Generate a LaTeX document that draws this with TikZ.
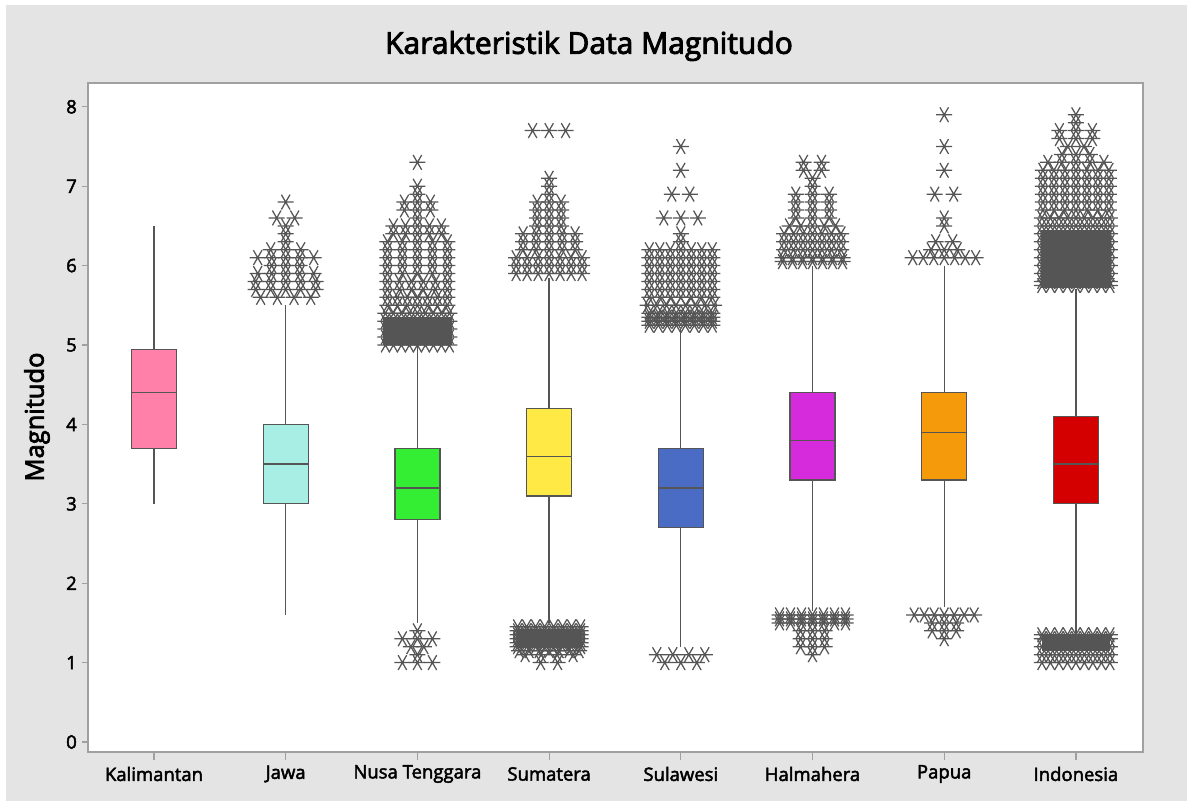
\documentclass[tikz,border=0pt]{standalone}
\usepackage{fontspec}
\setmainfont{Open Sans}
\newfontfamily\sbf{Open Sans}[FakeBold=3]
\newfontfamily\lbf{Open Sans}[FakeBold=2.5]
\definecolor{bg}{HTML}{E4E4E4}
\definecolor{frm}{HTML}{A0A0A0}
\definecolor{sg}{HTML}{555555}
\definecolor{cKal}{HTML}{FF80A8}
\definecolor{cJaw}{HTML}{A8EEE4}
\definecolor{cNus}{HTML}{33EE33}
\definecolor{cSum}{HTML}{FFEA45}
\definecolor{cSul}{HTML}{4A6CC4}
\definecolor{cHal}{HTML}{D62BDC}
\definecolor{cPap}{HTML}{F59A0A}
\definecolor{cInd}{HTML}{D40000}
\tikzset{
  astl/.style={line width=1.25pt, draw=sg},
  ast/.pic={\draw[astl] (-8,0)--(8,0) (-4.3,-7.4)--(4.3,7.4) (-4.3,7.4)--(4.3,-7.4);},
  boxl/.style={line width=1.3pt, draw=sg},
  whl/.style={line width=1.3pt, draw=sg},
  tickl/.style={line width=1.2pt, draw=frm},
  lab/.style={font=\lbf\fontsize{18.5}{21}\selectfont, text=black, inner sep=0pt},
}
\newcommand{\starrows}[2]{%
  \foreach \v/\n/\s in {#2}{%
    \foreach \i in {1,...,\n}{%
      \pic at ({#1+(\i-(\n+1)/2)*\s},{59+79.4*\v}) {ast};
    }%
  }%
}
\newcommand{\boxplt}[7]{% cx, color, wlo, q1, med, q3, whi
  \draw[whl] (#1,{59+79.4*#3}) -- (#1,{59+79.4*#4});
  \draw[whl] (#1,{59+79.4*#6}) -- (#1,{59+79.4*#7});
  \filldraw[fill=#2, boxl] ({#1-22.5},{59+79.4*#4}) rectangle ({#1+22.5},{59+79.4*#6});
  \draw[boxl] ({#1-22.5},{59+79.4*#5}) -- ({#1+22.5},{59+79.4*#5});
}
\newcommand{\solid}[4]{\fill[sg] (#1,{59+79.4*#3}) rectangle (#2,{59+79.4*#4});}
\begin{document}
\begin{tikzpicture}[x=1pt,y=1pt]
\useasboundingbox (0,0) rectangle (1187,801);
\fill[white] (0,0) rectangle (1187,801);
\fill[bg] (6,0) rectangle (1187,796);
\fill[white] (88,49) rectangle (1143,718);
\draw[frm, line width=1.5pt] (88,49) rectangle (1143,718);
% title
\node[font=\sbf\fontsize{30}{34}\selectfont, inner sep=0pt] (title) at (589,755) {Karakteristik Data Magnitudo};
% y axis label
\node[font=\sbf\fontsize{25.5}{29}\selectfont, rotate=90, inner sep=0pt] (ylab) at (37,384) {Magnitudo};
% y ticks
\foreach \t in {0,...,8}{
  \draw[tickl] (82,{59+79.4*\t}) -- (88,{59+79.4*\t});
  \node[lab, anchor=east] (yt\t) at (77,{59+79.4*\t}) {\t};
}
% x ticks and labels
\foreach \k/\name in {0/Kalimantan,1/Jawa,2/Nusa Tenggara,3/Sumatera,4/Sulawesi,5/Halmahera,6/Papua,7/Indonesia}{
  \draw[tickl] ({154+131.7*\k},49) -- ({154+131.7*\k},41);
  \node[lab] (xt\k) at ({154+131.7*\k},27) {\name};
}
% boxes
\boxplt{154}{cKal}{3.0}{3.7}{4.4}{4.94}{6.5}
\boxplt{285.7}{cJaw}{1.6}{3.0}{3.5}{4.0}{5.5}
\boxplt{417.4}{cNus}{1.5}{2.8}{3.2}{3.7}{5.0}
\boxplt{549.1}{cSum}{1.5}{3.1}{3.6}{4.2}{5.85}
\boxplt{680.8}{cSul}{1.2}{2.7}{3.2}{3.7}{5.2}
\boxplt{812.5}{cHal}{1.65}{3.3}{3.8}{4.4}{6.0}
\boxplt{944.2}{cPap}{1.7}{3.3}{3.9}{4.4}{6.0}
\boxplt{1075.9}{cInd}{1.35}{3.0}{3.5}{4.1}{5.7}
% outliers: Jawa
\starrows{285.7}{6.8/1/0,6.6/2/18,6.5/1/0,6.4/1/0,6.3/1/0,6.2/3/15,6.1/5/14,6.0/3/14,5.9/5/14,5.8/5/15,5.7/5/15,5.6/4/16.7}
% Nusa Tenggara
\solid{383}{452}{5.0}{5.35}
\starrows{417.4}{7.3/1/0,7.0/1/0,6.9/1/0,6.8/3/13,6.7/3/13,6.6/1/0,6.5/5/12,6.4/5/12,6.3/5/15,6.2/5/15,6.1/5/15,6.0/5/15,5.9/5/15,5.8/6/12,5.7/6/12,5.6/7/10,5.5/7/10,5.4/9/8,5.3/9/8,5.2/9/8,5.1/9/8,5.0/9/8}
\starrows{417.4}{1.4/1/0,1.3/3/15,1.2/2/13,1.1/1/0,1.0/3/15}
% Sumatera
\starrows{549.1}{7.7/3/16.5,7.1/1/0,7.0/1/0,6.9/1/0,6.8/3/12,6.7/3/12,6.6/3/12,6.5/3/12,6.4/5/13,6.3/5/13,6.2/5/13,6.1/7/11,6.0/7/11,5.9/7/11}
\solid{517}{581}{1.18}{1.42}
\starrows{549.1}{1.45/8/9,1.4/8/9,1.35/8/9,1.3/8/9,1.25/8/9,1.2/8/9,1.15/7/10,1.1/4/16,1.0/2/17}
% Sulawesi
\starrows{680.8}{7.5/1/0,7.2/1/0,6.9/2/18,6.6/3/17,6.4/1/0,6.3/1/0,6.2/7/10.5,6.1/7/10.5,6.0/7/10.5,5.9/7/10.5,5.8/7/10.5,5.7/7/10.5,5.6/7/10.5,5.5/8/9.5,5.4/8/9,5.35/8/9,5.3/8/9,5.25/8/9}
\starrows{680.8}{1.1/4/16,1.0/3/16}
% Halmahera
\starrows{812.5}{7.3/2/18,7.2/2/18,7.1/1/0,7.0/1/0,6.9/3/16.7,6.8/3/16.7,6.7/3/16.7,6.6/3/16.7,6.5/5/11.5,6.4/7/9.5,6.3/7/9.5,6.2/7/9.5,6.1/7/10,6.05/7/10}
\starrows{812.5}{1.6/7/11,1.55/7/11,1.5/7/11,1.4/3/12,1.3/3/12,1.2/3/12,1.1/1/0}
% Papua
\starrows{944.2}{7.9/1/0,7.5/1/0,7.2/1/0,6.9/2/19,6.6/1/0,6.5/1/0,6.3/2/17,6.2/3/13,6.1/7/10.5}
\starrows{944.2}{1.6/7/10,1.5/3/12,1.4/3/12,1.3/1/0}
% Indonesia
\solid{1041}{1111}{5.72}{6.45}
\starrows{1075.9}{7.9/1/0,7.8/1/0,7.7/3/16.5,7.6/3/16.5,7.5/2/16,7.4/3/14,7.3/5/14,7.2/7/11,7.1/7/11,7.0/7/11,6.9/7/11,6.8/7/11,6.7/7/11,6.6/9/8.5,6.5/9/8.5,6.4/9/8.5,6.3/9/8.5,6.2/9/8.5,6.1/9/8.5,6.0/9/8.5,5.9/9/8.5,5.8/9/8.5,5.75/9/8.5}
\solid{1042}{1110}{1.15}{1.36}
\starrows{1075.9}{1.35/9/8.5,1.3/9/8.5,1.2/9/8.5,1.1/9/8.5,1.0/9/8.5}
\end{tikzpicture}
\end{document}
